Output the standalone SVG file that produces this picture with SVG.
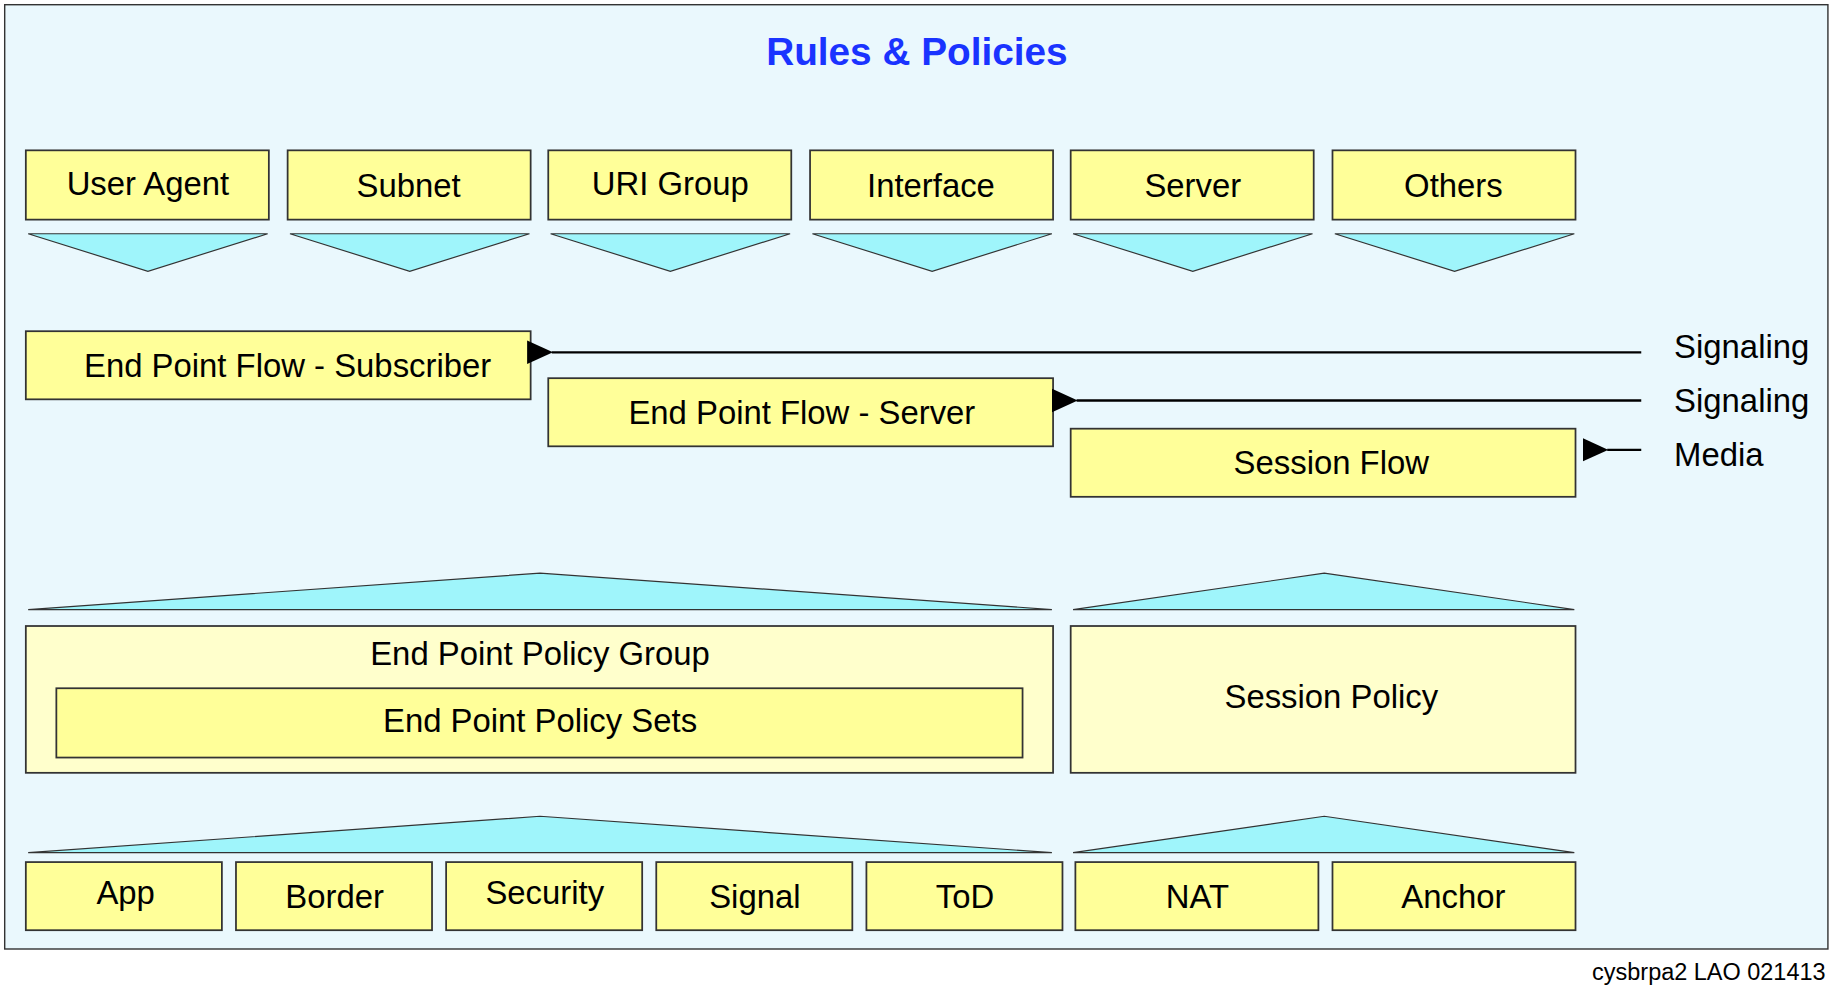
<svg xmlns="http://www.w3.org/2000/svg" width="1841" height="989" viewBox="0 0 1841 989">
<defs>
<style>
.b{fill:#ffff99;stroke:#333;stroke-width:1.5}
.p{fill:#ffffcc;stroke:#333;stroke-width:1.5}
.t{fill:#9ff5fb;stroke:#333;stroke-width:1}
text{font-family:"Liberation Sans",Arial,sans-serif;font-size:28px;fill:#000}
.c{text-anchor:middle}
</style>
<marker id="ah" markerWidth="22" markerHeight="22" refX="1" refY="11" orient="auto" markerUnits="userSpaceOnUse" viewBox="0 0 22 22"><path d="M22,1 L0,11 L22,21 z" fill="#000"/></marker>
</defs>
<rect width="1841" height="989" fill="#fff"/>
<g transform="scale(1.174,1.1745)">
<rect x="4" y="4" width="1553" height="804" fill="#eaf8fd" stroke="#333" stroke-width="1.2"/>
<text x="781" y="55" class="c" style="font-size:33px;font-weight:bold;fill:#1a33ff">Rules &amp; Policies</text>
<g id="ua"><rect class="b" x="22" y="128" width="207" height="59"/><text class="c" x="126" y="166">User Agent</text></g>
<g id="subnet"><rect class="b" x="245" y="128" width="207" height="59"/><text class="c" x="348" y="168">Subnet</text></g>
<g id="uri"><rect class="b" x="467" y="128" width="207" height="59"/><text class="c" x="571" y="166">URI Group</text></g>
<g id="iface"><rect class="b" x="690" y="128" width="207" height="59"/><text class="c" x="793" y="168">Interface</text></g>
<g id="server"><rect class="b" x="912" y="128" width="207" height="59"/><text class="c" x="1016" y="168">Server</text></g>
<g id="others"><rect class="b" x="1135" y="128" width="207" height="59"/><text class="c" x="1238" y="168">Others</text></g>
<g id="tri-top">
<polygon class="t" points="24,199 228,199 126,231"/>
<polygon class="t" points="247,199 451,199 349,231"/>
<polygon class="t" points="469,199 673,199 571,231"/>
<polygon class="t" points="692,199 896,199 794,231"/>
<polygon class="t" points="914,199 1118,199 1016,231"/>
<polygon class="t" points="1137,199 1341,199 1239,231"/>
</g>
<g id="epfsub"><rect class="b" x="22" y="282" width="430" height="58"/><text class="c" x="245" y="321">End Point Flow - Subscriber</text></g>
<g id="epfsrv"><rect class="b" x="467" y="322" width="430" height="58"/><text class="c" x="683" y="361">End Point Flow - Server</text></g>
<g id="sflow"><rect class="b" x="912" y="365" width="430" height="58"/><text class="c" x="1134" y="404">Session Flow</text></g>
<g id="connectors" stroke="#000" stroke-width="2">
<line x1="1398" y1="300" x2="470" y2="300" marker-end="url(#ah)"/>
<line x1="1398" y1="341" x2="917" y2="341" marker-end="url(#ah)"/>
<line x1="1398" y1="383" x2="1369" y2="383" marker-end="url(#ah)"/>
</g>
<text x="1426" y="305">Signaling</text>
<text x="1426" y="351">Signaling</text>
<text x="1426" y="397">Media</text>
<g id="tri-mid">
<polygon class="t" points="24,519 896,519 460,488"/>
<polygon class="t" points="914,519 1341,519 1128,488"/>
</g>
<g id="epg"><rect class="p" x="22" y="533" width="875" height="125"/><text class="c" x="460" y="566">End Point Policy Group</text></g>
<g id="eps"><rect class="b" x="48" y="586" width="823" height="59"/><text class="c" x="460" y="623">End Point Policy Sets</text></g>
<g id="spol"><rect class="p" x="912" y="533" width="430" height="125"/><text class="c" x="1134" y="603">Session Policy</text></g>
<g id="tri-bot">
<polygon class="t" points="24,726 896,726 460,695"/>
<polygon class="t" points="914,726 1341,726 1128,695"/>
</g>
<g id="app"><rect class="b" x="22" y="734" width="167" height="58"/><text class="c" x="107" y="770">App</text></g>
<g id="border"><rect class="b" x="201" y="734" width="167" height="58"/><text class="c" x="285" y="773">Border</text></g>
<g id="security"><rect class="b" x="380" y="734" width="167" height="58"/><text class="c" x="464" y="770">Security</text></g>
<g id="signal"><rect class="b" x="559" y="734" width="167" height="58"/><text class="c" x="643" y="773">Signal</text></g>
<g id="tod"><rect class="b" x="738" y="734" width="167" height="58"/><text class="c" x="822" y="773">ToD</text></g>
<g id="nat"><rect class="b" x="916" y="734" width="207" height="58"/><text class="c" x="1020" y="773">NAT</text></g>
<g id="anchor"><rect class="b" x="1135" y="734" width="207" height="58"/><text class="c" x="1238" y="773">Anchor</text></g>
<text x="1555" y="834" style="font-size:20px;text-anchor:end">cysbrpa2 LAO 021413</text>
</g>
</svg>
